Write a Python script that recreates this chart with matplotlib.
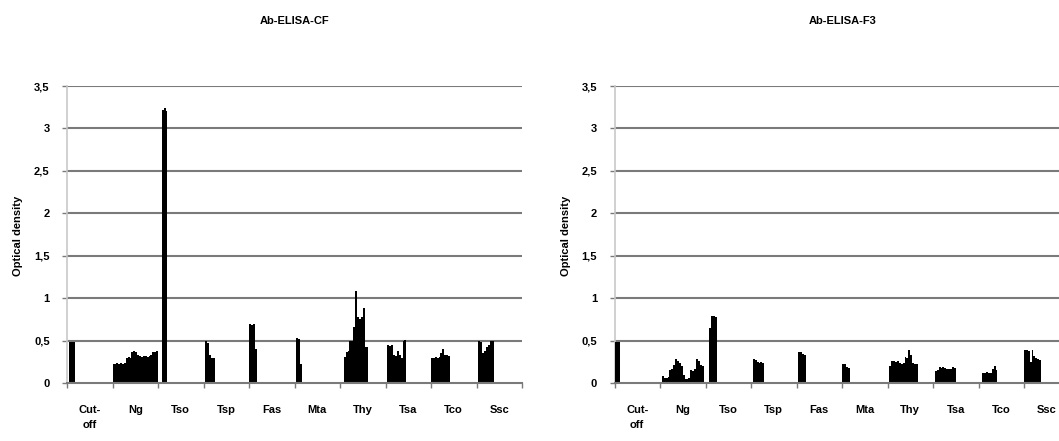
import matplotlib
matplotlib.use("Agg")
import matplotlib.pyplot as plt
from matplotlib.ticker import FixedLocator, FuncFormatter

plt.rcParams['font.family'] = ['Liberation Sans', 'DejaVu Sans']

groups = ["Cut-\noff", "Ng", "Tso", "Tsp", "Fas", "Mta", "Thy", "Tsa", "Tco", "Ssc"]
y_ticks = [0, 0.5, 1, 1.5, 2, 2.5, 3, 3.5]
y_tick_labels = ["0", "0,5", "1", "1,5", "2", "2,5", "3", "3,5"]

# Ab-ELISA-CF : one list of sample values per group (slot order inside the group)
cf_cutoff = [0, 0.48, 0.48, 0.48]
cf_ng = [0.22, 0.22, 0.23, 0.22, 0.23, 0.22, 0.23, 0.30, 0.31, 0.30, 0.37, 0.38,
         0.37, 0.33, 0.32, 0.31, 0.32, 0.32, 0.31, 0.32, 0.33, 0.37, 0.37, 0.38]
cf_tso = [0, 0, 3.22, 3.24, 3.20]
cf_tsp = [0, 0.50, 0.47, 0.33, 0.30, 0.30]
cf_fas = [0.70, 0.68, 0.70, 0.40]
cf_mta = [0, 0.53, 0.52, 0.22]
cf_thy = [0, 0, 0.31, 0.36, 0.38, 0.49, 0.50, 0.66, 1.08, 0.78, 0.75, 0.78, 0.88, 0.43, 0.43]
cf_tsa = [0, 0.45, 0.44, 0.45, 0.33, 0.32, 0.38, 0.33, 0.30, 0.50, 0.51]
cf_tco = [0.30, 0.30, 0.31, 0.30, 0.31, 0.35, 0.40, 0.33, 0.33, 0.32]
cf_ssc = [0, 0.50, 0.48, 0.35, 0.38, 0.42, 0.45, 0.50, 0.50]

# Ab-ELISA-F3
f3_cutoff = [0.48, 0.48, 0.48]
f3_ng = [0, 0.08, 0.06, 0.06, 0.07, 0.15, 0.17, 0.21, 0.28, 0.26, 0.24, 0.20,
         0.09, 0.05, 0.05, 0.06, 0.15, 0.14, 0.17, 0.28, 0.26, 0.21, 0.20]
f3_tso = [0, 0, 0.65, 0.79, 0.79, 0.78]
f3_tsp = [0, 0.28, 0.27, 0.25, 0.24, 0.25, 0.24]
f3_fas = [0, 0.37, 0.36, 0.34, 0.33]
f3_mta = [0.22, 0.22, 0.19, 0.18]
f3_thy = [0, 0.20, 0.26, 0.26, 0.25, 0.26, 0.23, 0.22, 0.24, 0.31, 0.30, 0.39, 0.33, 0.23, 0.22, 0.22]
f3_tsa = [0, 0.14, 0.15, 0.19, 0.18, 0.19, 0.18, 0.17, 0.16, 0.17, 0.19, 0.18]
f3_tco = [0, 0, 0.12, 0.12, 0.13, 0.12, 0.12, 0.17, 0.20, 0.15]
f3_ssc = [0.39, 0.39, 0.38, 0.25, 0.39, 0.32, 0.30, 0.28, 0.27]

cf_data = [cf_cutoff, cf_ng, cf_tso, cf_tsp, cf_fas, cf_mta, cf_thy, cf_tsa, cf_tco, cf_ssc]
f3_data = [f3_cutoff, f3_ng, f3_tso, f3_tsp, f3_fas, f3_mta, f3_thy, f3_tsa, f3_tco, f3_ssc]

SLOTS = 24
W, H = 1059, 441
fig = plt.figure(figsize=(W / 100, H / 100), dpi=100)

grid_c = "#7a7a7a"


def draw(ax, data):
    xs, hs = [], []
    for gi, vals in enumerate(data):
        for si, v in enumerate(vals):
            if v > 0:
                xs.append(gi + si / SLOTS)
                hs.append(v)
    ax.bar(xs, hs, width=1 / SLOTS, align='edge', color='black', linewidth=0, zorder=3)
    ax.set_xlim(0, len(groups))
    ax.set_ylim(0, 3.5)
    ax.yaxis.set_major_locator(FixedLocator(y_ticks))
    ax.yaxis.set_major_formatter(FuncFormatter(
        lambda v, p: y_tick_labels[y_ticks.index(round(v, 1))] if round(v, 1) in y_ticks else ""))
    for y in y_ticks[1:]:
        ax.axhline(y, color=grid_c, lw=1.5, zorder=1)
    ax.set_xticks([i + 0.5 for i in range(len(groups))])
    ax.set_xticklabels(groups, fontsize=8, linespacing=1.6, va='top', fontweight='bold')
    ax.set_xticks(range(len(groups) + 1), minor=True)
    ax.tick_params(axis='x', which='major', length=0, pad=16)
    ax.tick_params(axis='x', which='minor', length=3.5, color=grid_c, width=1, direction='out')
    ax.tick_params(axis='y', length=3.5, color=grid_c, width=1, labelsize=8, pad=9)
    for lab in ax.get_yticklabels():
        lab.set_fontweight('bold')
    for s in ['top', 'right']:
        ax.spines[s].set_visible(False)
    ax.spines['left'].set_color('#c8c8c8')
    ax.spines['left'].set_linewidth(1.2)
    ax.spines['bottom'].set_color(grid_c)
    ax.spines['bottom'].set_linewidth(1.5)
    ax.spines['bottom'].set_zorder(4)
    ax.set_facecolor('white')


ax1 = fig.add_axes([67 / W, 58 / H, 455 / W, 297 / H])
draw(ax1, cf_data)
ax2 = fig.add_axes([614.5 / W, 58 / H, 455 / W, 297 / H])
draw(ax2, f3_data)

fig.text(295 / W, 1 - 21 / H, "Ab-ELISA-CF", ha='center', va='center', fontsize=8, fontweight='bold')
fig.text(843 / W, 1 - 21 / H, "Ab-ELISA-F3", ha='center', va='center', fontsize=8, fontweight='bold')
fig.text(18 / W, 1 - 236 / H, "Optical density", rotation=90, ha='center', va='center', fontsize=8, fontweight='bold')
fig.text(566 / W, 1 - 236 / H, "Optical density", rotation=90, ha='center', va='center', fontsize=8, fontweight='bold')

fig.savefig("out.png", dpi=100, facecolor='white')
